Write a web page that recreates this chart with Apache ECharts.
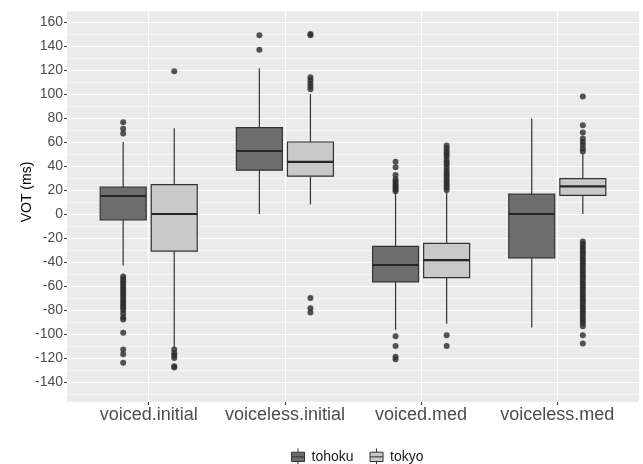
<!DOCTYPE html>
<html>
<head>
<meta charset="utf-8">
<title>VOT boxplot</title>
<script src="https://cdn.jsdelivr.net/npm/echarts@6.0.0/dist/echarts.min.js"></script>
<style>
  html, body { margin: 0; padding: 0; background: #fff; }
  #chart { width: 643px; height: 464px; }
</style>
</head>
<body>
<div id="chart"></div>
<script>
// categories on the x axis
const categories = ["voiced.initial", "voiceless.initial", "voiced.med", "voiceless.med"];
const groups = ["tohoku", "tokyo"];

// y tick labels
const yTicks = [-140, -120, -100, -80, -60, -40, -20, 0, 20, 40, 60, 80, 100, 120, 140, 160];

// box stats per category: [low whisker, q1, median, q3, high whisker]
const tohokuStats = [
  [-43, -5, 15, 22.5, 60],
  [0, 36.5, 52.5, 72, 121.5],
  [-96.5, -56.5, -42.5, -27, 17],
  [-94.5, -36.5, 0, 16.5, 79.5]
];
const tokyoStats = [
  [-111, -31, 0, 24.5, 71.5],
  [8, 31.5, 43.5, 60, 100],
  [-91.5, -53, -38.5, -24.5, 18.5],
  [0, 15.5, 23, 29.5, 50]
];

// outliers per category
const tohokuOutliers = [
  [76.5, 71, 67, -52, -54, -56, -58, -60, -62, -64, -66, -68, -70, -72, -74, -76, -78, -80, -83, -86, -88, -99, -113, -117, -124],
  [137, 149],
  [19, 20.5, 22, 23.5, 25.5, 27, 29, 32.5, 39, 43.5, -102, -110, -119, -121],
  []
];
const tokyoOutliers = [
  [119, -113, -116, -118, -120, -127, -128],
  [104, 106.5, 109, 111.5, 114, 149, 150, -70, -78.5, -82],
  [20, 22, 24, 26, 28, 30, 32, 34, 36, 38.5, 41, 43, 45, 48, 50, 52, 54.5, 57, -101, -110],
  [52, 54.5, 57.5, 60, 63, 68, 74, 98,
   -23, -25, -27, -29, -31, -33, -35, -37, -39, -41, -43, -45, -47, -49, -51, -53, -55,
   -57, -59, -61, -63, -65, -67, -69, -71, -73, -75, -77, -79, -81, -83, -85, -87, -89,
   -91, -93.5, -101, -108]
];

const yMin = -156.7;
const yMax = 169.2;

const dodge = 0.1875;     // ggplot dodge offset (in category units)
const boxHalf = 0.16875;  // half box width
const fills = { tohoku: "#6d6d6d", tokyo: "#c9c9c9" };
const legendIcon = "path://M9,0 V4 M2,4 H16 V14 H2 Z M2,9 H16 M9,14 V18";

function boxData(stats, d) {
  return stats.map(function (s, i) { return [i + 1 + d].concat(s); });
}
function outlierData(list, d) {
  const out = [];
  list.forEach(function (vals, i) {
    vals.forEach(function (v) { out.push([i + 1 + d, v]); });
  });
  return out;
}

function renderBox(params, api) {
  const x = api.value(0);
  const low = api.coord([x, api.value(1)]);
  const q1 = api.coord([x, api.value(2)]);
  const med = api.coord([x, api.value(3)]);
  const q3 = api.coord([x, api.value(4)]);
  const high = api.coord([x, api.value(5)]);
  const hw = api.size([boxHalf, 0])[0];
  const fill = api.visual("color");
  const edge = { stroke: "#333333", lineWidth: 1.2 };
  return {
    type: "group",
    children: [
      { type: "line", shape: { x1: high[0], y1: high[1], x2: q3[0], y2: q3[1] }, style: edge },
      { type: "line", shape: { x1: q1[0], y1: q1[1], x2: low[0], y2: low[1] }, style: edge },
      {
        type: "rect",
        shape: { x: q3[0] - hw, y: q3[1], width: hw * 2, height: q1[1] - q3[1] },
        style: { fill: fill, stroke: "#333333", lineWidth: 1.2 }
      },
      {
        type: "line",
        shape: { x1: med[0] - hw, y1: med[1], x2: med[0] + hw, y2: med[1] },
        style: { stroke: "#262626", lineWidth: 2.2 }
      }
    ]
  };
}

const chart = echarts.init(document.getElementById("chart"));

const option = {
  animation: false,
  grid: {
    left: 67, right: 4, top: 11, bottom: 62,
    show: true, backgroundColor: "#ebebeb", borderWidth: 0
  },
  legend: {
    left: 286, top: 443,
    itemWidth: 13, itemHeight: 18, itemGap: 16,
    textStyle: { fontFamily: "Liberation Sans", fontSize: 14, color: "#1a1a1a", padding: [0, 0, 0, 2] },
    data: [
      { name: "tohoku", icon: legendIcon, itemStyle: { color: fills.tohoku, borderColor: "#333333", borderWidth: 1 } },
      { name: "tokyo", icon: legendIcon, itemStyle: { color: fills.tokyo, borderColor: "#333333", borderWidth: 1 } }
    ]
  },
  xAxis: {
    type: "value",
    min: 0.4, max: 4.6,
    splitNumber: 4,
    axisLine: { show: false, onZero: false },
    axisTick: { show: true, length: 3, lineStyle: { color: "#333333" }, customValues: [1, 2, 3, 4] },
    axisLabel: {
      fontFamily: "Liberation Sans", fontSize: 18, color: "#4d4d4d", margin: 4,
      customValues: [1, 2, 3, 4],
      formatter: function (v) { return Number.isInteger(v) ? categories[v - 1] : ""; }
    },
    splitLine: { show: true, lineStyle: { color: "#ffffff", width: 1.1 } }
  },
  yAxis: [
    {
      type: "value",
      min: yMin, max: yMax,
      splitNumber: 16,
      name: "VOT (ms)",
      nameLocation: "middle",
      nameGap: 33,
      nameMoveOverlap: false,
      nameTextStyle: { fontFamily: "Liberation Sans", fontSize: 14, color: "#000", padding: [0, 0, 0, 29] },
      axisLine: { show: false, onZero: false },
      axisTick: { show: true, length: 3, lineStyle: { color: "#333333" }, customValues: yTicks },
      axisLabel: {
        fontFamily: "Liberation Sans", fontSize: 14, color: "#4d4d4d", margin: 4,
        customValues: yTicks
      },
      splitLine: { show: true, lineStyle: { color: "#ffffff", width: 1.1 } }
    },
    {
      type: "value",
      min: yMin, max: yMax,
      splitNumber: 32,
      axisLine: { show: false, onZero: false },
      axisTick: { show: false },
      axisLabel: { show: false },
      splitLine: { show: true, lineStyle: { color: "#ffffff", width: 0.55 } }
    }
  ],
  series: [
    {
      name: "tohoku",
      type: "custom",
      renderItem: renderBox,
      itemStyle: { color: fills.tohoku },
      encode: { x: 0, y: [1, 2, 3, 4, 5] },
      data: boxData(tohokuStats, -dodge)
    },
    {
      name: "tokyo",
      type: "custom",
      renderItem: renderBox,
      itemStyle: { color: fills.tokyo },
      encode: { x: 0, y: [1, 2, 3, 4, 5] },
      data: boxData(tokyoStats, dodge)
    },
    {
      name: "tohoku outliers",
      type: "scatter",
      symbolSize: 6,
      itemStyle: { color: "#2b2b2b" },
      data: outlierData(tohokuOutliers, -dodge)
    },
    {
      name: "tokyo outliers",
      type: "scatter",
      symbolSize: 6,
      itemStyle: { color: "#2b2b2b" },
      data: outlierData(tokyoOutliers, dodge)
    }
  ]
};

chart.setOption(option);
window.addEventListener("resize", function () { chart.resize(); });
</script>
</body>
</html>
